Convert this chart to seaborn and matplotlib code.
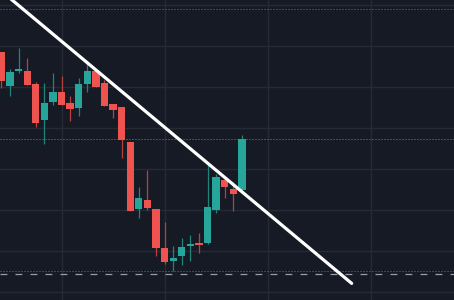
import numpy as np
import pandas as pd
import matplotlib as mpl
mpl.use('Agg')
import matplotlib.pyplot as plt
import seaborn as sns

# candle data (price units, grid every 10)
opens = [158.5, 150.2, 153.9, 153.9, 150.7, 142.0, 146.3, 148.8, 146.1, 144.9,
         150.7, 153.9, 151.0, 145.9, 145.1, 136.6, 120.2, 122.4, 120.2, 110.7,
         107.6, 108.8, 111.2, 112.0, 112.0, 120.0, 127.3, 125.1, 124.9]
closes = [151.5, 153.7, 154.4, 150.5, 141.3, 146.1, 148.8, 145.6, 144.6, 150.7,
          153.9, 150.0, 145.4, 144.4, 137.1, 119.8, 122.9, 120.5, 110.7, 107.3,
          108.3, 111.0, 111.7, 111.5, 120.7, 128.0, 125.6, 123.9, 137.3]
highs = [158.5, 154.4, 159.5, 157.1, 151.2, 151.0, 153.4, 152.7, 147.8, 152.2,
         156.1, 153.9, 151.7, 145.9, 145.1, 136.6, 125.6, 129.8, 120.2, 117.1,
         111.2, 113.2, 113.9, 114.4, 131.0, 128.8, 128.0, 126.8, 138.3]
lows = [149.8, 147.8, 153.4, 150.5, 140.3, 136.1, 145.6, 145.6, 141.8, 142.9,
        148.8, 150.0, 145.4, 142.4, 132.7, 119.8, 118.0, 120.0, 108.8, 106.8,
        105.1, 106.6, 107.6, 109.5, 111.7, 119.3, 122.9, 119.8, 124.1]

# trend line end points (bar index, price)
trend_x = [0.0, 40.78]
trend_y = [173.4, 102.1]

# horizontal levels
level_top = 169.0
level_mid = 137.2
level_low_dotted = 105.1
level_low_dashed = 104.5

bg = '#161a25'
up_col = '#26a69a'
down_col = '#ef5350'
up_wick = '#1f857b'
down_wick = '#b8403e'

df = pd.DataFrame({'open': opens, 'close': closes, 'high': highs, 'low': lows})
df['idx'] = np.arange(len(df))
df['up'] = df.close >= df.open

sns.set_theme(style='dark', rc={'axes.facecolor': bg, 'figure.facecolor': bg,
                                'grid.color': '#262a35', 'grid.linewidth': 1.0})

fig = plt.figure(figsize=(4.54, 3.0), dpi=100)
ax = fig.add_axes([0, 0, 1, 1])

ax.set_xlim(-0.163, 52.69)
ax.set_ylim(98.05, 171.22)
ax.set_xticks([7, 19, 31, 43])
ax.set_yticks(np.arange(100, 171, 10))
ax.grid(True, zorder=0)
ax.set_xticklabels([])
ax.set_yticklabels([])
ax.tick_params(length=0)
for s in ax.spines.values():
    s.set_visible(False)

# levels
ax.axhline(level_top, color='#6f7380', lw=0.72, ls=(0, (1, 2)), zorder=1)
ax.axhline(level_mid, color=up_col, lw=0.72, ls=(0, (1, 2)), zorder=1)
ax.axhline(level_low_dotted, color='#6f7380', lw=0.72, ls=(0, (1, 2)), zorder=1)
ax.axhline(level_low_dashed, color='#9a9da6', lw=0.9, ls=(0, (5.5, 6.5)), zorder=1)

# wicks
for up, wc in [(True, up_wick), (False, down_wick)]:
    d = df[df.up == up]
    ax.vlines(d.idx, d.low, d.high, color=wc, lw=0.9, zorder=2)

# bodies
for up, bc in [(True, up_col), (False, down_col)]:
    d = df[df.up == up]
    bottom = d[['open', 'close']].min(axis=1)
    height = (d.close - d.open).abs().clip(lower=0.4)
    ax.bar(d.idx, height, bottom=bottom, width=0.85, color=bc, lw=0, zorder=3)

# trend line
sns.lineplot(x=trend_x, y=trend_y, ax=ax, color='white', lw=2.3, zorder=4)

fig.savefig('out.png', dpi=100, facecolor=bg)
